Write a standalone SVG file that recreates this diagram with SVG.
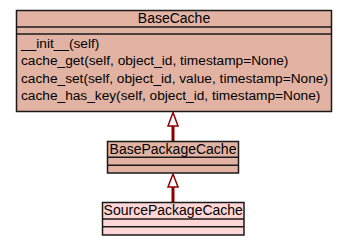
<svg xmlns="http://www.w3.org/2000/svg" width="347" height="245" viewBox="0 0 347 245">
  <style>
    .box { stroke: #1a1a1a; stroke-width: 1.5; }
    .base { fill: #e2b3a3; }
    .leaf { fill: #ffd6d6; }
    .sep { stroke: #1a1a1a; stroke-width: 1.5; fill: none; }
    .title { font-family: "Liberation Sans", Arial, sans-serif; font-size: 14px; fill: #000; text-anchor: middle; }
    .member { font-family: "Liberation Sans", Arial, sans-serif; font-size: 13.7px; fill: #000; }
    .edge { stroke: #8b0000; stroke-width: 3; fill: none; }
    .head { stroke: #8b0000; stroke-width: 1.5; fill: #fff; }
  </style>
  <rect width="347" height="245" fill="#fff"/>

  <g id="connectors">
    <!-- BasePackageCache inherits BaseCache -->
    <line class="edge" x1="173" y1="126" x2="173" y2="141.5"/>
    <polygon class="head" points="173,112.5 168,126 178,126"/>
    <!-- SourcePackageCache inherits BasePackageCache -->
    <line class="edge" x1="173" y1="187" x2="173" y2="202.5"/>
    <polygon class="head" points="173,174 168,187 178,187"/>
  </g>

  <g id="BaseCache">
    <rect class="box base" x="16.5" y="10.5" width="315" height="101"/>
    <line class="sep" x1="16.5" y1="27" x2="331.5" y2="27"/>
    <line class="sep" x1="16.5" y1="34" x2="331.5" y2="34"/>
    <text class="title" x="174" y="23">BaseCache</text>
    <text class="member" x="21" y="48">__init__(self)</text>
    <text class="member" x="21" y="65.3">cache_get(self, object_id, timestamp=None)</text>
    <text class="member" x="21" y="82.6">cache_set(self, object_id, value, timestamp=None)</text>
    <text class="member" x="21" y="100">cache_has_key(self, object_id, timestamp=None)</text>
  </g>

  <g id="BasePackageCache">
    <rect class="box base" x="107.5" y="141.5" width="131" height="31.5"/>
    <line class="sep" x1="107.5" y1="157.3" x2="238.5" y2="157.3"/>
    <line class="sep" x1="107.5" y1="165.3" x2="238.5" y2="165.3"/>
    <text class="title" x="173" y="154">BasePackageCache</text>
  </g>

  <g id="SourcePackageCache">
    <rect class="box leaf" x="102.5" y="202.5" width="141.5" height="32.5"/>
    <line class="sep" x1="102.5" y1="219" x2="244" y2="219"/>
    <line class="sep" x1="102.5" y1="226.7" x2="244" y2="226.7"/>
    <text class="title" x="173.25" y="215">SourcePackageCache</text>
  </g>
</svg>
